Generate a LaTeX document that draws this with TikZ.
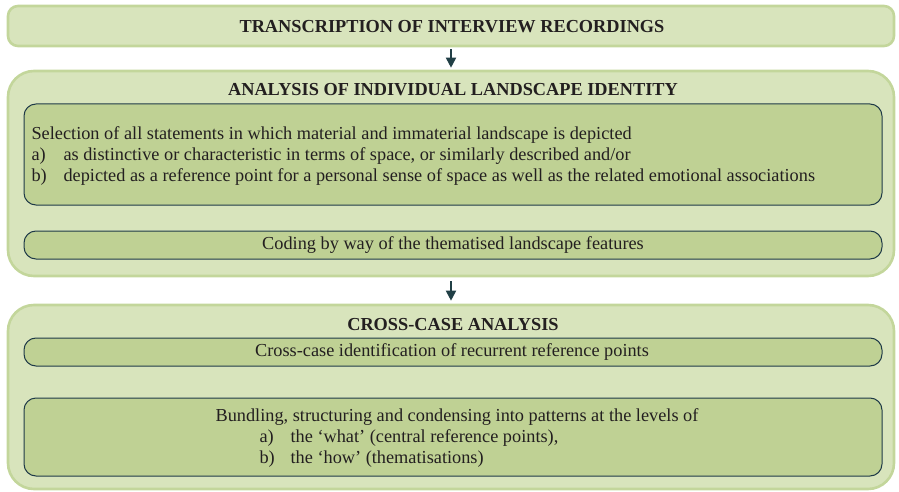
\documentclass[tikz,border=0pt]{standalone}
\usepackage{fontspec}
\setmainfont{Liberation Serif}
\usetikzlibrary{arrows.meta}

\definecolor{stagefill}{HTML}{D8E4BC}
\definecolor{stageline}{HTML}{C3D69B}
\definecolor{stepfill}{HTML}{BFD194}
\definecolor{stepline}{HTML}{1F3A48}
\definecolor{flowarrow}{HTML}{213F46}
\definecolor{inktext}{HTML}{231F20}

\begin{document}
\begin{tikzpicture}[x=1pt,y=-1pt,
        stage/.style={draw=stageline,fill=stagefill,line width=2.6pt,minimum width=886pt,inner sep=0pt},
        stepbox/.style={draw=stepline,fill=stepfill,line width=1pt,rounded corners=12pt,minimum width=858pt,inner sep=0pt},
        heading/.style={text=inktext,font=\fontsize{18.3}{21}\selectfont\bfseries},
        plain/.style={text=inktext,font=\fontsize{18.3}{21}\selectfont},
        flow/.style={-{Triangle[length=10pt,width=10pt]},draw=flowarrow,line width=1.8pt}]
        \useasboundingbox (0,0) rectangle (899,492);

        % stage 1
        \node[stage,rounded corners=10pt,minimum height=40pt] (stageone) at (451,26) {};
        \node[heading] (transcription) at (452,27) {TRANSCRIPTION OF INTERVIEW RECORDINGS};

        % stage 2
        \node[stage,rounded corners=26pt,minimum height=205pt] (stagetwo) at (451,173.5) {};
        \node[heading] (individual) at (453,90) {ANALYSIS OF INDIVIDUAL LANDSCAPE IDENTITY};
        \node[stepbox,minimum height=101pt] (selectbox) at (453,154.5) {};
        \node[plain,align=left,anchor=west] (selection) at (28,156)
            {Selection of all statements in which material and immaterial landscape is depicted\\
             \makebox[32pt][l]{a)}as distinctive or characteristic in terms of space, or similarly described and/or\\
             \makebox[32pt][l]{b)}depicted as a reference point for a personal sense of space as well as the related emotional associations};
        \node[stepbox,minimum height=28pt] (codebox) at (453,245) {};
        \node[plain] (coding) at (453,245) {Coding by way of the thematised landscape features};

        % stage 3
        \node[stage,rounded corners=26pt,minimum height=184pt] (stagethree) at (451,397) {};
        \node[heading] (crosscase) at (453,325) {CROSS-CASE ANALYSIS};
        \node[stepbox,minimum height=28pt] (identbox) at (453,352) {};
        \node[plain] (identification) at (452,352) {Cross-case identification of recurrent reference points};
        \node[stepbox,minimum height=78pt] (bundlebox) at (453,437) {};
        \node[plain,align=left] (bundling) at (457,438)
            {Bundling, structuring and condensing into patterns at the levels of\\
             \hspace*{44pt}\makebox[31pt][l]{a)}the ‘what’ (central reference points),\\
             \hspace*{44pt}\makebox[31pt][l]{b)}the ‘how’ (thematisations)};

        % connectors
        \draw[flow,shorten <=2pt,shorten >=2pt] (stageone.south) -- (stagetwo.north);
        \draw[flow,shorten <=4pt,shorten >=3pt] (stagetwo.south) -- (stagethree.north);
\end{tikzpicture}
\end{document}
